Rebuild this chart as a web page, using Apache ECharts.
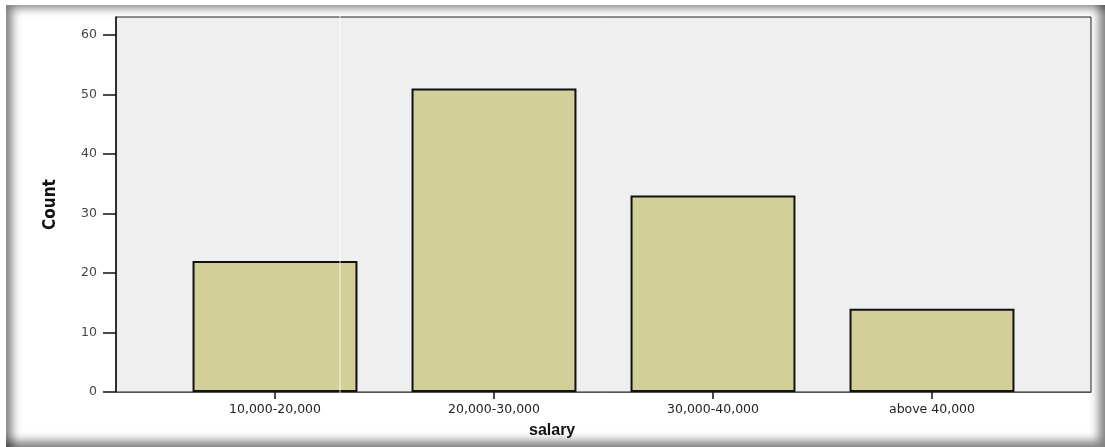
<!DOCTYPE html>
<html>
<head>
<meta charset="utf-8">
<script src="https://cdn.jsdelivr.net/npm/echarts@6/dist/echarts.min.js"></script>
<style>
  html, body { margin: 0; padding: 0; background: #ffffff; }
  #frame { position: absolute; left: 6px; top: 5px; width: 1099px; height: 442px;
           box-shadow: inset 10px 7px 10px -4px rgba(0,0,0,0.5), inset -10px -10px 10px -4px rgba(0,0,0,0.5); }
  #chart { position: absolute; left: 0; top: 0; width: 1105px; height: 447px; }
</style>
</head>
<body>
<div id="chart"></div>
<div id="frame"></div>
<script>
const categories = ['10,000-20,000', '20,000-30,000', '30,000-40,000', 'above 40,000'];
const counts = [22, 51, 33, 14];
const yTicks = [0, 10, 20, 30, 40, 50, 60];
const yMax = 63;

const chart = echarts.init(document.getElementById('chart'));
const labelFont = 'DejaVu Sans';
chart.setOption({
  animation: false,
  backgroundColor: 'transparent',
  grid: [
    { left: 116, right: 14, top: 17, bottom: 55, show: true, backgroundColor: '#efefef', borderColor: '#222', borderWidth: 1 },
    { left: 165.5, width: 876, top: 17, bottom: 55 }
  ],
  title: {
    text: 'salary', left: 524, top: 418,
    textStyle: { fontFamily: 'Liberation Sans', fontWeight: 'bold', fontSize: 16, color: '#111' }
  },
  xAxis: [
    { gridIndex: 0, type: 'value', min: 0, max: 1, show: true,
      axisLine: { show: true, lineStyle: { color: '#555', width: 1 } },
      axisTick: { show: false }, axisLabel: { show: false }, splitLine: { show: false } },
    { gridIndex: 1, type: 'category', data: categories,
      axisLine: { show: false },
      axisTick: { show: true, alignWithLabel: true, length: 7, lineStyle: { color: '#111', width: 1.5 } },
      axisLabel: { fontFamily: labelFont, fontSize: 12.5, color: '#222', margin: 11 },
      splitLine: { show: false } }
  ],
  yAxis: [
    { gridIndex: 0, type: 'value', min: 0, max: yMax, interval: 10,
      name: 'Count', nameLocation: 'middle', nameGap: 57, nameRotate: 90,
      nameTextStyle: { fontFamily: 'DejaVu Sans Condensed, Liberation Sans', fontWeight: 'bold', fontSize: 17, color: '#111' },
      axisLine: { show: true, lineStyle: { color: '#111', width: 1.5 } },
      axisTick: { show: true, length: 13, inside: false, lineStyle: { color: '#111', width: 1.5 },
                  customValues: yTicks },
      axisLabel: { fontFamily: labelFont, fontSize: 12.5, color: '#444', margin: 19, customValues: yTicks },
      splitLine: { show: false } },
    { gridIndex: 1, type: 'value', min: 0, max: yMax, show: false }
  ],
  series: [{
    type: 'bar', xAxisIndex: 1, yAxisIndex: 1, data: counts, barWidth: '75.3%',
    itemStyle: { color: '#d3cf99', borderColor: '#111', borderWidth: 2 }
  }],
  graphic: [
    { type: 'line', shape: { x1: 340, y1: 5, x2: 340, y2: 447 }, style: { stroke: 'rgba(255,255,255,0.8)', lineWidth: 1 }, z: 100 }
  ]
});
</script>
</body>
</html>
